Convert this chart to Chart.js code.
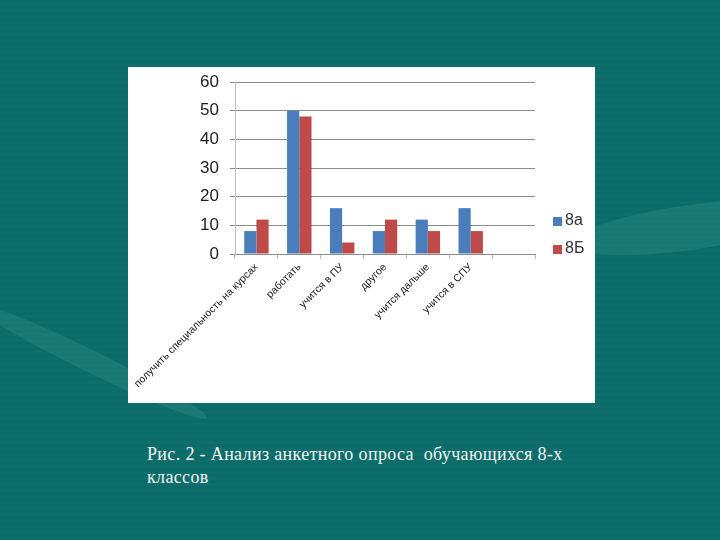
<!DOCTYPE html>
<html>
<head>
<meta charset="utf-8">
<script src="https://cdn.jsdelivr.net/npm/chart.js@4"></script>
<style>
  html, body { margin:0; padding:0; }
  body { width:720px; height:540px; overflow:hidden; position:relative;
    background: repeating-linear-gradient(180deg, #0b6b68 0px, #0b6b68 3px, #0d6e6b 3px, #0d6e6b 6px); }
  .swoosh { position:absolute; background: rgba(80,170,160,0.22); border-radius:50%; }
  #box { position:absolute; left:128px; top:67px; width:467px; height:336px; background:#fff; }
  #c { position:absolute; left:0; top:0; }
  .leg { position:absolute; font-family:"Liberation Sans", Arial, sans-serif; font-size:16px; color:#333; }
  .leg span.sw { position:absolute; width:9px; height:9px; left:0; top:4px; }
  .leg span.tx { position:absolute; left:12px; top:-2px; }
  #cap { position:absolute; left:147px; top:443px; width:480px; font-family:"Liberation Serif","DejaVu Serif",serif; font-size:18px; letter-spacing:0.35px; line-height:23px; color:#f4f4f4; }
</style>
</head>
<body>
<div class="swoosh" style="left:-40px; top:350px; width:260px; height:22px; transform:rotate(26deg);"></div>
<div class="swoosh" style="left:570px; top:205px; width:240px; height:45px; transform:rotate(-8deg);"></div>
<div id="box">
  <canvas id="c" width="467" height="336"></canvas>
  <div class="leg" style="left:425px; top:146px;"><span class="sw" style="background:#4a7ebb"></span><span class="tx">8а</span></div>
  <div class="leg" style="left:425px; top:174px;"><span class="sw" style="background:#be4b48"></span><span class="tx">8Б</span></div>
</div>
<div id="cap">Рис. 2 - Анализ анкетного опроса &nbsp;обучающихся 8-х<br>классов</div>
<script>
const categories = ["получить специальность на курсах", "работать", "учится в ПУ", "другое", "учится дальше", "учится в СПУ", ""];
const series8a = [8, 50, 16, 8, 12, 16, null];
const series8b = [12, 48, 4, 12, 8, 8, null];
const yTicks = [0, 10, 20, 30, 40, 50, 60];

new Chart(document.getElementById('c'), {
  type: 'bar',
  data: {
    labels: categories,
    datasets: [
      { label: '8а', data: series8a, backgroundColor: '#4a7ebb', categoryPercentage: 0.57, barPercentage: 1.0 },
      { label: '8Б', data: series8b, backgroundColor: '#be4b48', categoryPercentage: 0.57, barPercentage: 1.0 }
    ]
  },
  options: {
    responsive: false,
    animation: false,
    devicePixelRatio: 1,
    layout: { padding: { top: 15, right: 60, bottom: 0, left: 0 } },
    plugins: { legend: { display: false }, tooltip: { enabled: false } },
    scales: {
      x: {
        grid: { display: true, drawOnChartArea: false, offset: true, tickLength: 5, color: '#bdbdbd' },
        border: { color: '#8c8c8c' },
        ticks: { minRotation: 45, maxRotation: 45, autoSkip: false, color: '#222', padding: 2,
          font: { family: 'Liberation Sans', size: 10.5 } },
        afterFit: s => { s.height = 149; s.paddingLeft = 0; s.paddingRight = 0; }
      },
      y: {
        min: 0, max: 60,
        afterBuildTicks: s => { s.ticks = yTicks.map(v => ({ value: v })); },
        grid: { color: '#8c8c8c', tickLength: 5 },
        border: { color: '#bdbdbd' },
        ticks: { color: '#222', padding: 11, font: { family: 'Liberation Sans', size: 17 } },
        afterFit: s => { s.width = 107; s.paddingTop = 0; s.paddingBottom = 0; }
      }
    }
  }
});
</script>
</body>
</html>
